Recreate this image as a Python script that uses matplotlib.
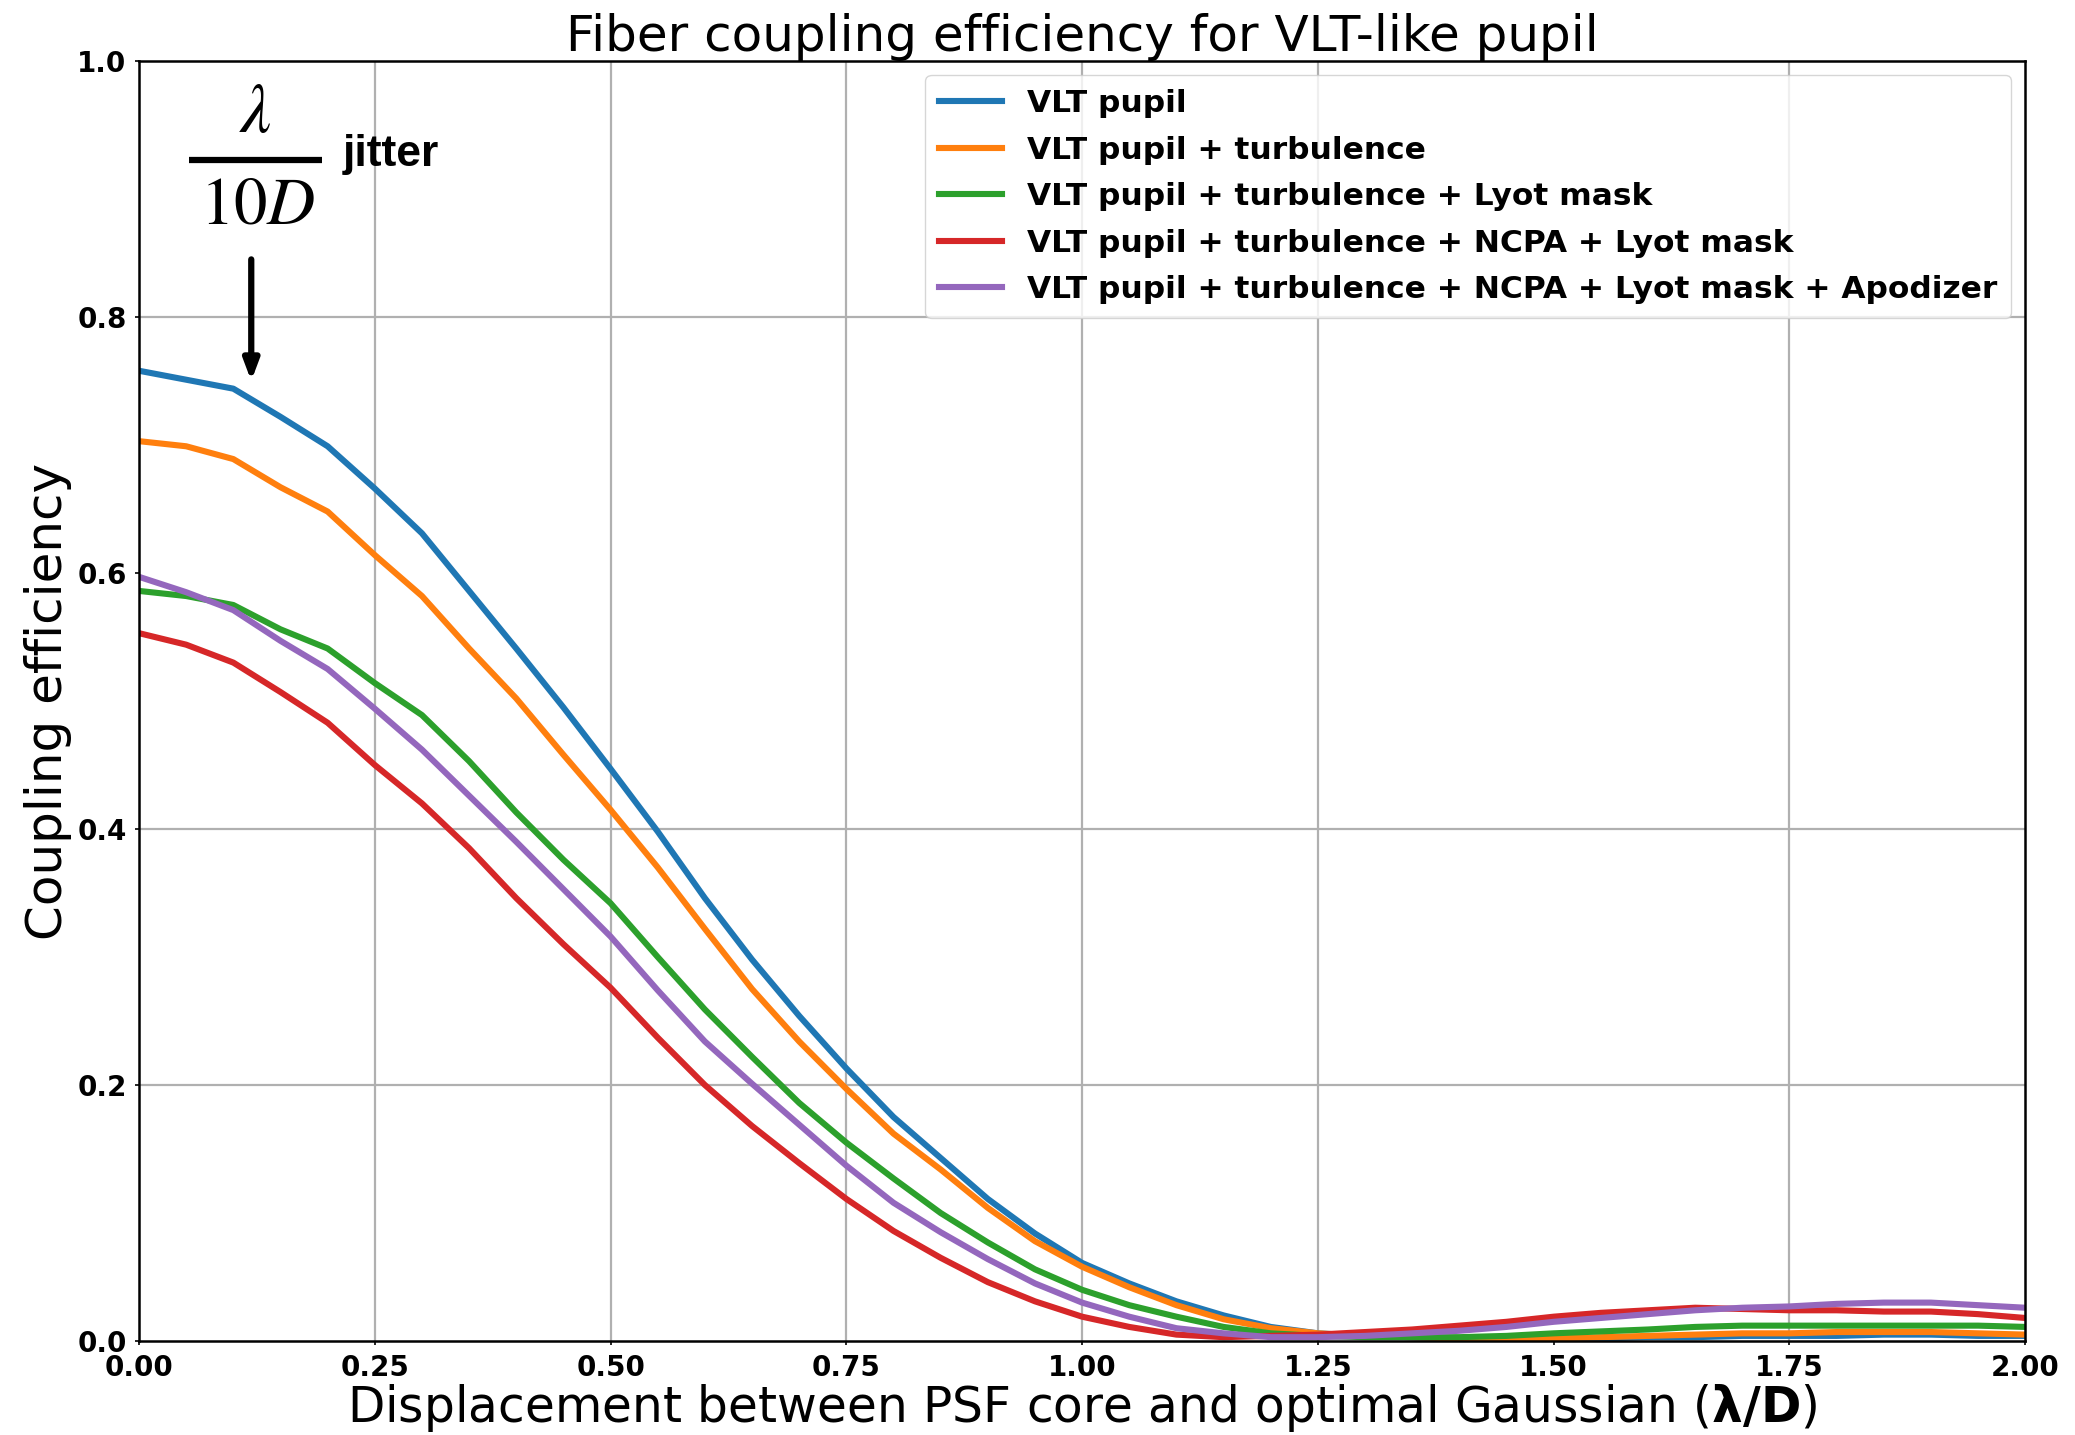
import numpy as np
import matplotlib
matplotlib.use("Agg")
import matplotlib.pyplot as plt
from matplotlib.lines import Line2D

# ---------------- data ----------------
displacement = [0.00, 0.05, 0.10, 0.15, 0.20, 0.25, 0.30, 0.35, 0.40, 0.45,
                0.50, 0.55, 0.60, 0.65, 0.70, 0.75, 0.80, 0.85, 0.90, 0.95,
                1.00, 1.05, 1.10, 1.15, 1.20, 1.25, 1.30, 1.35, 1.40, 1.45,
                1.50, 1.55, 1.60, 1.65, 1.70, 1.75, 1.80, 1.85, 1.90, 1.95, 2.00]

vlt_pupil = [0.758, 0.751, 0.744, 0.722, 0.699, 0.666, 0.631, 0.586, 0.541, 0.495,
             0.447, 0.398, 0.346, 0.298, 0.254, 0.213, 0.175, 0.143, 0.111, 0.084,
             0.061, 0.045, 0.031, 0.020, 0.011, 0.006, 0.004, 0.003, 0.002, 0.002,
             0.002, 0.002, 0.003, 0.003, 0.004, 0.004, 0.004, 0.005, 0.005, 0.004, 0.004]

vlt_turb = [0.703, 0.699, 0.689, 0.667, 0.648, 0.614, 0.582, 0.541, 0.502, 0.458,
            0.415, 0.370, 0.322, 0.275, 0.234, 0.197, 0.162, 0.134, 0.104, 0.078,
            0.058, 0.042, 0.028, 0.017, 0.010, 0.006, 0.004, 0.003, 0.002, 0.002,
            0.002, 0.003, 0.004, 0.005, 0.006, 0.006, 0.007, 0.007, 0.007, 0.006, 0.005]

vlt_turb_lyot = [0.586, 0.582, 0.575, 0.556, 0.541, 0.514, 0.489, 0.453, 0.413, 0.376,
                 0.342, 0.300, 0.259, 0.222, 0.186, 0.155, 0.127, 0.100, 0.077, 0.056,
                 0.040, 0.028, 0.019, 0.011, 0.006, 0.004, 0.003, 0.003, 0.003, 0.004,
                 0.006, 0.0075, 0.009, 0.011, 0.012, 0.012, 0.012, 0.012, 0.012, 0.012, 0.011]

vlt_turb_ncpa_lyot = [0.553, 0.544, 0.530, 0.507, 0.483, 0.450, 0.420, 0.385, 0.346, 0.310,
                      0.276, 0.237, 0.200, 0.168, 0.139, 0.111, 0.086, 0.065, 0.046, 0.031,
                      0.019, 0.011, 0.005, 0.003, 0.004, 0.005, 0.007, 0.009, 0.012, 0.015,
                      0.019, 0.022, 0.024, 0.026, 0.025, 0.024, 0.024, 0.023, 0.023, 0.021, 0.018]

vlt_turb_ncpa_lyot_apod = [0.597, 0.585, 0.571, 0.547, 0.525, 0.494, 0.462, 0.426, 0.390, 0.353,
                           0.316, 0.274, 0.234, 0.201, 0.169, 0.137, 0.108, 0.085, 0.064, 0.045,
                           0.030, 0.019, 0.010, 0.006, 0.003, 0.003, 0.004, 0.006, 0.008, 0.011,
                           0.015, 0.018, 0.021, 0.024, 0.026, 0.027, 0.029, 0.030, 0.030, 0.028, 0.026]

series_labels = ["VLT pupil",
                 "VLT pupil + turbulence",
                 "VLT pupil + turbulence + Lyot mask",
                 "VLT pupil + turbulence + NCPA + Lyot mask",
                 "VLT pupil + turbulence + NCPA + Lyot mask + Apodizer"]
series_colors = ["#1f77b4", "#ff7f0e", "#2ca02c", "#d62728", "#9467bd"]

x_ticks = [0.00, 0.25, 0.50, 0.75, 1.00, 1.25, 1.50, 1.75, 2.00]
y_ticks = [0.0, 0.2, 0.4, 0.6, 0.8, 1.0]
# gridlines present in the original (1.5 and 0.6 are absent there)
x_grid = [0.25, 0.50, 0.75, 1.00, 1.25, 1.75]
y_grid = [0.2, 0.4, 0.8]

# ---------------- figure ----------------
fig = plt.figure(figsize=(20.75, 14.35), dpi=100)
ax = fig.add_axes([0.067, 0.0655, 0.909, 0.892])

for v in x_grid:
    ax.axvline(v, color="#b0b0b0", lw=1.6, zorder=0.5)
for v in y_grid:
    ax.axhline(v, color="#b0b0b0", lw=1.6, zorder=0.5)

series = [vlt_pupil, vlt_turb, vlt_turb_lyot, vlt_turb_ncpa_lyot, vlt_turb_ncpa_lyot_apod]
for ys, lab, col in zip(series, series_labels, series_colors):
    ax.plot(displacement, ys, color=col, lw=4.4, label=lab)

ax.set_xlim(0, 2)
ax.set_ylim(0, 1)
ax.set_xticks(x_ticks)
ax.set_xticklabels([f"{v:.2f}" for v in x_ticks])
ax.set_yticks(y_ticks)
ax.set_yticklabels([f"{v:.1f}" for v in y_ticks])
for lbl in ax.get_xticklabels() + ax.get_yticklabels():
    lbl.set_fontweight("bold")
    lbl.set_fontsize(20)
ax.tick_params(length=3, width=1.2, pad=6)

for sp in ax.spines.values():
    sp.set_linewidth(1.8)

ax.set_title("Fiber coupling efficiency for VLT-like pupil", fontsize=36, pad=5)
ax.set_xlabel(r"Displacement between PSF core and optimal Gaussian ($\mathbf{\lambda/D}$)",
              fontsize=35, labelpad=0)
ax.set_ylabel("Coupling efficiency", fontsize=36, labelpad=4)

leg = ax.legend(loc="upper right", prop={"weight": "bold", "size": 22.5},
                handlelength=2.0, borderaxespad=0.45, labelspacing=0.56,
                borderpad=0.45)

# ---------------- annotation ----------------
ax.text(0.0615, 0.960, r"$\lambda$", transform=ax.transAxes, ha="center", va="center",
        fontsize=50, math_fontfamily="stix")
ax.add_line(Line2D([0.0265, 0.097], [0.9227, 0.9227], transform=ax.transAxes,
                   color="black", lw=4.5, solid_capstyle="butt"))
ax.text(0.063, 0.8875, r"$10D$", transform=ax.transAxes, ha="center", va="center",
        fontsize=48, math_fontfamily="stix")
ax.text(0.108, 0.9266, "jitter", transform=ax.transAxes, ha="left", va="center",
        fontsize=32, fontweight="bold", family="Liberation Sans")
ax.annotate("", xy=(0.0595, 0.750), xytext=(0.0595, 0.845),
            xycoords="axes fraction", textcoords="axes fraction",
            arrowprops=dict(arrowstyle="-|>,head_length=1.2,head_width=0.45",
                            color="black", lw=4.5, shrinkA=0, shrinkB=0))

fig.savefig("out.png", dpi=100)
